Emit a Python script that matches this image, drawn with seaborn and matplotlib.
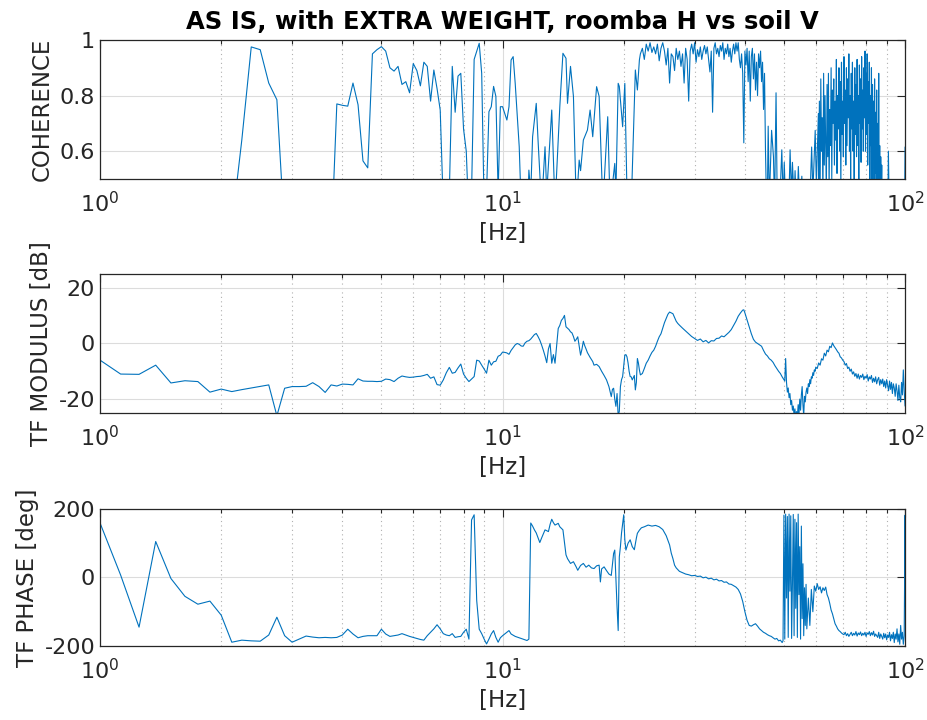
import numpy as np
import pandas as pd
import seaborn as sns
import matplotlib.pyplot as plt
from matplotlib.ticker import LogLocator, NullFormatter

# ---- data (Hz, value) ----
coh_pts = [
    (1.0, 0.21), (1.25, 0.08), (1.5, 0.3), (1.75, 0.12), (2.0, 0.25), (2.125, 0.33),
    (2.25, 0.64), (2.375, 0.975), (2.5, 0.965), (2.625, 0.845), (2.75, 0.785),
    (2.875, 0.3), (3.0, 0.12), (3.25, 0.3), (3.5, 0.1), (3.75, 0.25), (3.875, 0.77),
    (4.0, 0.765), (4.125, 0.762), (4.25, 0.845), (4.375, 0.767), (4.5, 0.565),
    (4.625, 0.54), (4.75, 0.95), (4.875, 0.965), (5.0, 0.976), (5.125, 0.96),
    (5.25, 0.9), (5.375, 0.888), (5.5, 0.905), (5.625, 0.84), (5.75, 0.85),
    (5.875, 0.81), (6.0, 0.915), (6.125, 0.89), (6.25, 0.835), (6.375, 0.92),
    (6.5, 0.905), (6.625, 0.78), (6.75, 0.892), (6.875, 0.825), (7.0, 0.748),
    (7.125, 0.4), (7.25, 0.2), (7.375, 0.45), (7.5, 0.905), (7.625, 0.74),
    (7.75, 0.87), (7.875, 0.88), (8.0, 0.68), (8.125, 0.6), (8.25, 0.35),
    (8.375, 0.45), (8.5, 0.93), (8.75, 0.988), (8.875, 0.88), (9.0, 0.4),
    (9.125, 0.45), (9.25, 0.742), (9.375, 0.76), (9.5, 0.833), (9.625, 0.797),
    (9.75, 0.45), (9.875, 0.76), (10.0, 0.76), (10.25, 0.712), (10.375, 0.76),
    (10.5, 0.928), (10.625, 0.94), (10.75, 0.844), (11.0, 0.616), (11.125, 0.4),
    (11.5, 0.3), (11.625, 0.532), (11.75, 0.45), (11.875, 0.652), (12.125, 0.772),
    (12.25, 0.64), (12.5, 0.4), (12.75, 0.616), (12.875, 0.45), (13.25, 0.748),
    (13.5, 0.4), (13.875, 0.76), (14.125, 0.952), (14.375, 0.934), (14.5, 0.772),
    (14.75, 0.905), (15.0, 0.797), (15.25, 0.4), (15.5, 0.568), (15.625, 0.53),
    (15.875, 0.64), (16.25, 0.676), (16.5, 0.748), (16.75, 0.652), (17.125, 0.832),
    (17.375, 0.797), (17.75, 0.4), (18.25, 0.724), (18.5, 0.4), (19.0, 0.556),
    (19.125, 0.45), (19.375, 0.844), (19.5, 0.833), (19.875, 0.688), (20.125, 0.844),
    (20.375, 0.45), (20.875, 0.4), (21.375, 0.892), (21.625, 0.82), (21.875, 0.928),
    (45.25, 0.42), (45.5, 0.45), (45.7, 0.69), (46.0, 0.42), (46.6, 0.675),
    (47.1, 0.58), (47.4, 0.4), (47.8, 0.81), (48.1, 0.45), (48.4, 0.3), (49.0, 0.47),
    (49.4, 0.605), (49.8, 0.42), (50.1, 0.56), (50.5, 0.4), (50.8, 0.48),
    (51.3, 0.35), (51.8, 0.605), (52.2, 0.44), (52.5, 0.56), (53.0, 0.42),
    (53.3, 0.53), (53.8, 0.35), (54.3, 0.545), (54.8, 0.4), (55.4, 0.51), (56.0, 0.3),
    (57.0, 0.45), (57.8, 0.35), (58.6, 0.615), (59.0, 0.45), (59.8, 0.675),
    (60.2, 0.48), (60.9, 0.735),
    (88.5, 0.35), (89.5, 0.45), (90.5, 0.3), (90.9, 0.6), (91.3, 0.4), (92.5, 0.3),
    (93.5, 0.45), (94.5, 0.3), (95.4, 0.42), (96.5, 0.3), (97.5, 0.45), (98.5, 0.2),
    (99.2, 0.49), (99.6, 0.3), (100.0, 0.615),
]
# dense parts, sampled every 0.25 Hz from the given start
coh_22_start = 22.0
coh_22 = [0.95, 0.97, 0.93, 0.985, 0.96, 0.99, 0.955, 0.975, 0.95, 0.985, 0.925, 0.97,
          0.99, 0.96, 0.91, 0.97, 0.845, 0.95, 0.94, 0.89, 0.97, 0.93, 0.96, 0.905,
          0.95, 0.845, 0.97, 0.93, 0.78, 0.96, 0.985, 0.95, 0.99, 0.92, 0.965, 0.94,
          0.975, 0.93, 0.96, 0.98, 0.95, 0.975, 0.93, 0.885, 0.96, 0.74, 0.97, 0.99,
          0.95, 0.97, 0.94, 0.98, 0.96, 0.99, 0.93, 0.97, 0.95, 0.985, 0.94, 0.97,
          0.92, 0.96, 0.985, 0.95, 0.99, 0.96, 0.99, 0.93, 0.9, 0.95, 0.88, 0.63,
          0.96, 0.91, 0.97, 0.85, 0.96, 0.78, 0.94, 0.97, 0.86, 0.95, 0.82, 0.92,
          0.80, 0.95, 0.9, 0.96, 0.85, 0.92, 0.75, 0.88, 0.6]
coh_61_start = 61.0
coh_61 = [0.5, 0.78, 0.45, 0.86, 0.6, 0.72, 0.42, 0.88, 0.55, 0.8, 0.62, 0.48, 0.84,
          0.58, 0.88, 0.45, 0.75, 0.62, 0.9, 0.5, 0.82, 0.7, 0.86, 0.55, 0.78,
          0.64, 0.93, 0.52, 0.8, 0.68, 0.9, 0.6, 0.85, 0.45, 0.92, 0.66, 0.78,
          0.58, 0.94, 0.7, 0.82, 0.55, 0.9, 0.62, 0.86, 0.72, 0.95, 0.6, 0.8,
          0.5, 0.88, 0.68, 0.92, 0.6, 0.78, 0.45, 0.9, 0.66, 0.84, 0.58, 0.93,
          0.62, 0.8, 0.48, 0.91, 0.7, 0.86, 0.56, 0.94, 0.68, 0.82, 0.6, 0.9,
          0.72, 0.96, 0.6, 0.88, 0.66, 0.95, 0.55, 0.85, 0.7, 0.92, 0.5, 0.8,
          0.62, 0.9, 0.48, 0.84, 0.58, 0.78, 0.45, 0.86, 0.52, 0.74, 0.4, 0.82,
          0.5, 0.7, 0.38, 0.88, 0.45, 0.62, 0.35, 0.58, 0.42, 0.55, 0.3, 0.48]

mag_pts = [
    (1.0, -6.0), (1.125, -11.0), (1.25, -11.1), (1.375, -7.8), (1.5, -14.2),
    (1.625, -13.4), (1.75, -13.7), (1.875, -17.5), (2.0, -16.4), (2.125, -17.3),
    (2.25, -16.6), (2.375, -16.0), (2.5, -15.4), (2.625, -14.9), (2.75, -26.0),
    (2.875, -16.1), (3.0, -15.5), (3.125, -15.5), (3.25, -15.4), (3.375, -14.1),
    (3.5, -15.5), (3.625, -17.6), (3.75, -14.9), (3.875, -15.3), (4.0, -14.6),
    (4.125, -14.7), (4.25, -14.9), (4.375, -12.7), (4.5, -13.5), (4.625, -13.6),
    (4.75, -13.6), (4.875, -13.7), (5.0, -13.6), (5.125, -12.8), (5.25, -13.0),
    (5.375, -13.7), (5.5, -12.5), (5.625, -11.7), (5.75, -12.0), (5.875, -12.2),
    (6.0, -12.1), (6.125, -11.9), (6.25, -11.8), (6.375, -11.5), (6.5, -11.1),
    (6.625, -12.5), (6.75, -12.0), (6.875, -14.8), (7.0, -15.0), (7.125, -13.1),
    (7.25, -10.5), (7.375, -8.6), (7.5, -10.7), (7.625, -10.4), (7.75, -8.8),
    (7.875, -7.4), (8.0, -11.0), (8.125, -12.5), (8.25, -13.7), (8.375, -12.8),
    (8.5, -11.9), (8.625, -6.0), (8.75, -6.3), (8.875, -7.8), (9.0, -9.2),
    (9.125, -10.7), (9.25, -6.0), (9.375, -7.8), (9.5, -6.6), (9.625, -6.4),
    (9.75, -4.6), (9.875, -4.2), (10.0, -3.1), (10.125, -3.2), (10.25, -3.4),
    (10.375, -3.9), (10.5, -2.5), (10.625, -1.5), (10.75, -0.5), (10.875, 0.0),
    (11.0, -0.3), (11.125, -0.9), (11.25, -1.0), (11.375, 0.2), (11.5, 0.8),
    (11.625, 1.0), (11.75, 1.6), (11.875, 2.4), (12.0, 3.2), (12.125, 3.6),
    (12.25, 2.5), (12.375, 1.2), (12.5, -0.5), (12.625, -2.4), (12.75, -4.5),
    (12.875, -6.9), (13.0, -2.0), (13.125, 0.0), (13.25, -7.1), (13.375, -4.0),
    (13.5, -7.1), (13.625, -1.0), (13.75, 5.4), (13.875, 6.5), (14.0, 8.3),
    (14.125, 9.0), (14.25, 10.1), (14.375, 6.0), (14.5, 5.5), (14.625, 5.0),
    (14.75, 4.2), (14.875, 3.8), (15.0, 2.5), (15.125, 0.8), (15.25, 1.5),
    (15.375, 2.4), (15.5, -1.0), (15.625, -4.2), (15.75, -2.0), (15.875, 0.8),
    (16.0, -0.8), (16.125, -2.0), (16.25, -3.3), (16.5, -5.0), (16.75, -6.5),
    (16.875, -7.8), (17.125, -7.5), (17.375, -8.3), (17.625, -10.0), (17.875, -11.5),
    (18.125, -13.1), (18.375, -15.5), (18.625, -19.1), (18.75, -16.5), (18.875, -16.1),
    (19.0, -20.0), (19.125, -22.6), (19.25, -18.0), (19.375, -26.0), (19.5, -24.4),
    (19.625, -15.5), (19.75, -13.0), (19.875, -11.9), (20.0, -8.0), (20.125, -4.2),
    (20.25, -4.0), (20.375, -4.8), (20.5, -7.0), (20.625, -10.0), (20.75, -11.9),
    (20.875, -12.0), (21.0, -13.1), (21.25, -11.5), (21.375, -16.7), (21.5, -14.0),
    (21.625, -5.4), (21.75, -7.0), (21.875, -9.5), (22.0, -11.3), (22.25, -10.8),
    (22.5, -9.0), (22.75, -7.1), (23.0, -6.0), (23.25, -4.5), (23.5, -3.2),
    (23.75, -2.4), (24.0, -1.0), (24.25, 0.8), (24.5, 2.4), (24.75, 3.5), (25.0, 5.5),
    (25.25, 7.5), (25.5, 9.0), (25.75, 10.5), (26.0, 11.3), (26.25, 11.0),
    (26.5, 10.7), (26.75, 9.3), (27.0, 8.0), (27.25, 7.2), (27.5, 6.6), (28.0, 5.5),
    (28.5, 4.5), (29.0, 3.5), (29.5, 2.5), (30.0, 1.8), (30.5, 1.1), (31.0, 1.6),
    (31.5, 0.6), (32.0, 1.1), (32.5, 0.2), (33.0, 1.0), (33.5, 0.9), (34.0, 1.8),
    (34.5, 1.9), (35.0, 2.7), (35.5, 2.4), (36.0, 3.2), (36.5, 4.0), (37.0, 5.0),
    (37.5, 6.5), (38.0, 8.0), (38.5, 9.8), (39.0, 11.0), (39.5, 12.0), (39.75, 12.1),
    (40.0, 11.0), (40.5, 8.5), (41.0, 6.0), (41.5, 3.5), (42.0, 1.5), (42.5, 0.5),
    (43.0, 0.0), (43.5, -0.5), (44.0, -1.0), (44.5, -2.5), (45.0, -3.8), (45.5, -4.5),
    (46.0, -5.5), (46.5, -6.0), (47.0, -6.8), (47.5, -8.0), (48.0, -9.0),
    (48.5, -10.0), (49.0, -10.8), (49.5, -12.0), (50.0, -13.0),
]
mag_50_start, mag_50_step = 50.25, 0.25
mag_50 = [-13.5, -5.4, -14.0, -17.5, -16.0, -19.5, -18.0, -22.0, -20.5, -24.0,
          -22.5, -26.0, -23.5, -27.0, -24.5, -26.5, -22.0, -25.5, -20.0, -24.0,
          -18.5, -15.5, -22.0, -26.0, -19.0, -21.0, -17.5, -16.0, -18.0, -14.5,
          -15.5, -13.0, -14.5, -12.0, -12.5, -10.5, -11.5, -9.5, -10.0, -8.5]
mag_60_start, mag_60_step = 60.5, 0.5
mag_60 = [-9.0, -7.0, -7.8, -5.5, -6.0, -3.5, -4.5, -2.4, -3.0, -1.0,
          -1.5, 0.2, -0.8, -1.5, -2.2, -3.0, -3.5, -4.8, -5.2, -6.0,
          -6.5, -7.8, -7.2, -9.0, -8.5, -10.0, -9.2, -11.0, -10.2, -11.8,
          -10.8, -12.5, -11.0, -12.8, -11.5, -12.2, -11.0, -13.0, -11.8, -12.5,
          -11.2, -13.5, -12.0, -12.8, -11.5, -14.0, -12.5, -13.8, -12.0, -14.5,
          -13.0, -12.2, -15.0, -13.0, -14.5, -12.8, -15.5, -13.5, -16.0, -13.0,
          -15.0, -17.0, -13.5, -16.5, -14.0, -18.0, -14.5, -16.0, -19.0, -14.5,
          -17.0, -20.5, -15.0, -19.5, -21.0, -14.0, -18.5, -9.5, -17.0, -22.5]

ph_pts = [
    (1.0, 159), (1.125, 7), (1.25, -145), (1.375, 105), (1.5, -3), (1.625, -55),
    (1.75, -78), (1.875, -69), (2.0, -110), (2.125, -189), (2.25, -183), (2.375, -185),
    (2.5, -186), (2.625, -168), (2.75, -116), (2.875, -170), (3.0, -189), (3.125, -180),
    (3.25, -171), (3.375, -174), (3.5, -176), (3.625, -175), (3.75, -176),
    (3.875, -175), (4.0, -168), (4.125, -151), (4.25, -165), (4.375, -176),
    (4.5, -172), (4.625, -170), (4.75, -170), (4.875, -170), (5.0, -151),
    (5.125, -165), (5.25, -172), (5.375, -170), (5.5, -168), (5.625, -164),
    (5.75, -168), (5.875, -172), (6.0, -175), (6.125, -178), (6.25, -181),
    (6.375, -183), (6.5, -170), (6.625, -160), (6.75, -150), (6.875, -138),
    (7.0, -150), (7.125, -164), (7.25, -168), (7.375, -170), (7.5, -164),
    (7.625, -175), (7.75, -173), (7.875, -172), (8.0, -160), (8.125, -151),
    (8.25, -180), (8.375, 168), (8.5, 183), (8.625, -67), (8.75, -151),
    (8.875, -164), (9.0, -180), (9.125, -194), (9.25, -180), (9.375, -165),
    (9.5, -155), (9.625, -175), (9.75, -189), (9.875, -176), (10.0, -170),
    (10.25, -160), (10.375, -155), (10.5, -165), (10.75, -172), (11.0, -176),
    (11.25, -180), (11.5, -184), (11.625, -180), (11.75, 159), (11.875, 150),
    (12.0, 139), (12.125, 130), (12.375, 102), (12.5, 115), (12.75, 139),
    (13.0, 134), (13.125, 155), (13.25, 170), (13.375, 160), (13.5, 153),
    (13.75, 158), (13.875, 148), (14.125, 139), (14.375, 66), (14.5, 55),
    (14.75, 41), (15.0, 46), (15.25, 30), (15.375, 21), (15.625, 35), (15.875, 41),
    (16.125, 30), (16.375, 36), (16.625, 28), (16.875, 26), (17.125, 34),
    (17.375, 36), (17.5, -13), (17.625, 25), (17.875, 31), (18.125, 20),
    (18.375, 10), (18.625, 6), (18.875, 70), (19.0, 80), (19.25, -86),
    (19.375, -155), (19.5, 60), (19.625, 90), (19.75, 130), (20.0, 183),
    (20.125, 110), (20.25, 80), (20.5, 100), (20.75, 110), (21.0, 90), (21.25, 81),
    (21.5, 115), (21.625, 129), (21.875, 138), (22.125, 145), (22.5, 148),
    (23.0, 153), (23.5, 150), (24.0, 152), (24.5, 148), (25.0, 140), (25.5, 122),
    (26.0, 95), (26.25, 71), (26.5, 55), (26.75, 36), (27.0, 28), (27.5, 18),
    (28.0, 14), (28.5, 10), (29.0, 8), (29.5, 5), (30.0, 6), (30.5, 3), (31.0, 4),
    (31.5, -1), (32.0, 1), (32.5, -4), (33.0, -2), (33.5, -7), (34.0, -5),
    (34.5, -10), (35.0, -9), (35.5, -14), (36.0, -13), (36.5, -19), (37.0, -20),
    (37.5, -24), (38.0, -28), (38.5, -35), (39.0, -48), (39.5, -70), (40.0, -100),
    (40.5, -125), (41.0, -140), (41.5, -142), (42.0, -138), (42.5, -135),
    (43.0, -142), (43.5, -150), (44.0, -155), (44.5, -160), (45.0, -163),
    (45.5, -167), (46.0, -170), (46.5, -172), (47.0, -176), (47.5, -180),
    (48.0, -178), (48.5, -185), (49.0, -183), (49.5, -190), (100.25, -85),
]
ph_50_start, ph_50_step = 49.75, 0.25
ph_50 = [-185, 182, -180, 185, -60, 178, -175, 185, -40, 180, -178, -20, 184, -170,
         170, -90, 160, -175, 185, -50, 90, -180, 150, -120, 40, -170, -30, -140,
         -20, -150]
ph_57_start, ph_57_step = 57.5, 0.5
ph_57 = [-60, -140, -35, -100, -25, -40, -18, -35, -27, -45, -30, -38, -28, -50,
         -60, -76, -95, -106, -120, -135, -142, -150, -155, -158, -162, -165,
         -167, -160, -170, -164, -172, -166, -160, -170, -163, -168, -158, -171,
         -162, -167, -159, -170, -163, -168, -160, -172,
         -162, -166, -158, -170, -161, -168, -157, -172, -165, -170, -175, -160,
         -178, -165, -172, -180, -163, -176, -165, -182,
         -168, -175, -160, -185, -167, -178, -160, -190, -165, -180, -150, -188,
         -165, -195, -140, -180, -160, -195, -170, 182]

title = "AS IS, with EXTRA WEIGHT, roomba H vs soil V"
ylabels = ["COHERENCE", "TF MODULUS [dB]", "TF PHASE [deg]"]
ylims = [(0.5, 1.0), (-25, 25), (-200, 200)]
yticks = [[0.6, 0.8, 1.0], [-20, 0, 20], [-200, 0, 200]]
yticklabels = [["0.6", "0.8", "1"], ["-20", "0", "20"], ["-200", "0", "200"]]


def series(pts, *dense):
    hz = [p[0] for p in pts]
    val = [p[1] for p in pts]
    for start, step, vals in dense:
        hz += list(start + step * np.arange(len(vals)))
        val += list(vals)
    return pd.DataFrame({"hz": hz, "val": val}).sort_values("hz")


coh = series(coh_pts, (coh_22_start, 0.25, coh_22), (coh_61_start, 0.25, coh_61))
mag = series(mag_pts, (mag_50_start, mag_50_step, mag_50), (mag_60_start, mag_60_step, mag_60))
ph = series(ph_pts, (ph_50_start, ph_50_step, ph_50), (ph_57_start, ph_57_step, ph_57))

sns.set_style("white")
plt.rcParams["font.family"] = ["DejaVu Sans"]
ink = "#262626"
blue = "#0072BD"

fig = plt.figure(figsize=(9.28, 7.2), dpi=100)
boxes = [(0.1078, 0.7514, 0.8675, 0.1931),
         (0.1078, 0.4264, 0.8675, 0.1931),
         (0.1078, 0.1028, 0.8675, 0.1903)]

for i, (df, box) in enumerate(zip([coh, mag, ph], boxes)):
    ax = fig.add_axes(box)
    sns.lineplot(data=df, x="hz", y="val", ax=ax, color=blue, linewidth=0.8,
                 estimator=None, sort=False)
    ax.set_xscale("log")
    ax.set_xlim(1, 100)
    ax.set_ylim(*ylims[i])
    ax.set_yticks(yticks[i])
    ax.set_yticklabels(yticklabels[i])
    ax.xaxis.set_major_locator(LogLocator(base=10, numticks=10))
    ax.xaxis.set_minor_locator(LogLocator(base=10, subs=np.arange(2, 10), numticks=20))
    ax.xaxis.set_minor_formatter(NullFormatter())
    ax.grid(True, which="major", axis="both", color="#dcdcdc", linewidth=0.8)
    ax.grid(True, which="minor", axis="x", color="#b0b0b0", linewidth=0.8,
            linestyle=(0, (1, 3)))
    ax.tick_params(which="both", direction="in", top=True, right=True,
                   colors=ink, labelsize=16, width=0.8)
    ax.tick_params(which="major", length=6)
    ax.tick_params(which="minor", length=3)
    ax.tick_params(axis="x", which="major", pad=9)
    for s in ax.spines.values():
        s.set_color(ink)
        s.set_linewidth(0.9)
    ax.set_xlabel("[Hz]", fontsize=16.5, color=ink, labelpad=4)
    ax.set_ylabel(ylabels[i], fontsize=16.5, color=ink, labelpad=4)
    ax.set_axisbelow(True)
    if i == 0:
        ax.set_title(title, fontsize=17.5, fontweight="bold", color="black", pad=8)

fig.savefig("out.png", dpi=100)
